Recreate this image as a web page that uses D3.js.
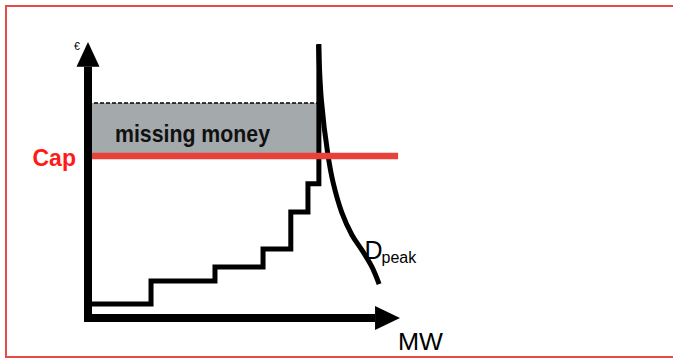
<!DOCTYPE html>
<html>
<head>
<meta charset="utf-8">
<script src="https://cdn.jsdelivr.net/npm/d3@7"></script>
<style>
  html, body { margin: 0; padding: 0; background: #fff; }
  svg { display: block; }
</style>
</head>
<body>
<svg id="chart" width="673" height="361"></svg>
<script>
// Stepped supply (merit order) curve: MW quantity and € price at each step
const supplyMW    = [0, 20.2, 20.2, 40.7, 40.7, 56.1, 56.1, 65.0, 65.0, 70.5, 70.5, 74.0, 74.0];
const supplyPrice = [5.1, 5.1, 13.4, 13.4, 18.5, 18.5, 25.0, 25.0, 38.4, 38.4, 48.6, 48.6, 99.3];

// Peak demand curve D_peak
const demandMW    = [73.9, 74.8, 76.9, 78.6, 81.3, 84.6, 87.8, 91.0, 93.3];
const demandPrice = [98.9, 79.0, 59.1, 48.9, 38.4, 30.1, 24.6, 18.5, 12.3];

// Price cap and the scarcity price level it cuts off
const capPrice = [58.7];
const capMW = [0, 99.4];
const scarcityPrice = [77.9];

// Axis and curve labels
const axisLabels = { x: "MW", y: "€" };
const curveLabel = { main: "D", sub: "peak" };
const capLabel = "Cap";
const areaLabel = "missing money";

const svg = d3.select("#chart");
const x = d3.scaleLinear().domain([0, 100]).range([88, 400]);
const y = d3.scaleLinear().domain([0, 100]).range([318, 42]);

const font = "'Liberation Sans', Arial, Helvetica, sans-serif";

// Frame
svg.append("rect")
  .attr("x", 6).attr("y", 6).attr("width", 690).attr("height", 351)
  .attr("fill", "none").attr("stroke", "#ea4a46").attr("stroke-width", 2);

// Missing money area between the cap and the scarcity price
const supplyEdge = supplyMW[supplyMW.length - 1];
svg.append("rect")
  .attr("x", x(0)).attr("y", y(scarcityPrice[0]))
  .attr("width", x(supplyEdge) - x(0))
  .attr("height", y(capPrice[0]) - y(scarcityPrice[0]))
  .attr("fill", "#a4a9ac");

svg.append("line")
  .attr("x1", x(0)).attr("x2", x(supplyEdge))
  .attr("y1", y(scarcityPrice[0])).attr("y2", y(scarcityPrice[0]))
  .attr("stroke", "#000").attr("stroke-width", 1.6)
  .attr("stroke-dasharray", "4,2");

svg.append("text")
  .attr("x", 115).attr("y", 141.5)
  .attr("font-family", font).attr("font-weight", "bold")
  .attr("font-size", 24.5).attr("fill", "#111")
  .attr("textLength", 155).attr("lengthAdjust", "spacingAndGlyphs")
  .text(areaLabel);

// Supply steps
const supplyPts = supplyMW.map((m, i) => [m, supplyPrice[i]]);
svg.append("path")
  .attr("d", d3.line().x(d => x(d[0])).y(d => y(d[1]))(supplyPts))
  .attr("fill", "none").attr("stroke", "#000").attr("stroke-width", 5)
  .attr("stroke-linejoin", "miter");

// Demand curve
const demandPts = demandMW.map((m, i) => [m, demandPrice[i]]);
svg.append("path")
  .attr("d", d3.line().curve(d3.curveCatmullRom).x(d => x(d[0])).y(d => y(d[1]))(demandPts))
  .attr("fill", "none").attr("stroke", "#000").attr("stroke-width", 5)
  .attr("stroke-linecap", "butt");

// Price cap line
svg.append("line")
  .attr("x1", x(capMW[0])).attr("x2", x(capMW[1]))
  .attr("y1", y(capPrice[0])).attr("y2", y(capPrice[0]))
  .attr("stroke", "#e8413a").attr("stroke-width", 6.5);

svg.append("text")
  .attr("x", 32.5).attr("y", 165.5)
  .attr("font-family", font).attr("font-weight", "bold")
  .attr("font-size", 24.5).attr("fill", "#ff1a1a")
  .attr("textLength", 43.5).attr("lengthAdjust", "spacingAndGlyphs")
  .text(capLabel);

// Axes with arrowheads
const axisW = 8;
svg.append("line")
  .attr("x1", x(0)).attr("x2", x(0))
  .attr("y1", y(0) + axisW / 2).attr("y2", y(91))
  .attr("stroke", "#000").attr("stroke-width", axisW);
svg.append("line")
  .attr("x1", x(0) - axisW / 2).attr("x2", x(92))
  .attr("y1", y(0)).attr("y2", y(0))
  .attr("stroke", "#000").attr("stroke-width", axisW);

svg.append("path")
  .attr("d", `M${x(0)},${y(100)} L${x(0) + 11.5},${y(91)} L${x(0) - 11.5},${y(91)} Z`)
  .attr("fill", "#000");
svg.append("path")
  .attr("d", `M${x(100)},${y(0)} L${x(92)},${y(0) - 12} L${x(92)},${y(0) + 12} Z`)
  .attr("fill", "#000");

svg.append("text")
  .attr("x", 77).attr("y", 49.5).attr("text-anchor", "middle")
  .attr("font-family", font).attr("font-size", 10.5).attr("fill", "#000")
  .text(axisLabels.y);

svg.append("text")
  .attr("x", 398).attr("y", 350)
  .attr("font-family", font).attr("font-size", 24.5).attr("fill", "#000")
  .attr("textLength", 45).attr("lengthAdjust", "spacingAndGlyphs")
  .text(axisLabels.x);

// Demand curve label with subscript
const lbl = svg.append("text")
  .attr("x", 364.5).attr("y", 258.5)
  .attr("font-family", font).attr("fill", "#000");
lbl.append("tspan").attr("font-size", 25).text(curveLabel.main);
lbl.append("tspan").attr("x", 381.5).attr("y", 262.5).attr("font-size", 16)
  .text(curveLabel.sub);
</script>
</body>
</html>
